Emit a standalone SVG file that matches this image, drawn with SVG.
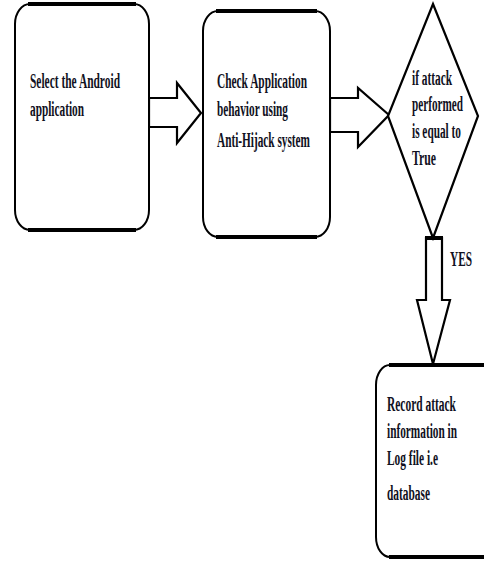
<svg xmlns="http://www.w3.org/2000/svg" width="484" height="561" viewBox="0 0 484 561">
<style>
.box{fill:#fff;stroke:#000;stroke-width:2}
.edge{stroke:#000;stroke-width:4;stroke-linecap:butt}
.arr{fill:#fff;stroke:#000;stroke-width:2.2;stroke-linejoin:miter}
.t{font-family:"Liberation Serif","Times New Roman",serif;font-weight:bold;font-size:20px;fill:#111122}
</style>
<rect width="484" height="561" fill="#fff"/>
<g id="connectors">
<polygon class="arr" points="149,98 177,98 177,83 201,113 177,143 177,127 149,127"/>
<polygon class="arr" points="330,98 358,98 358,88 389,115 358,147 358,132 330,132"/>
<polygon class="arr" points="426,238 442,238 442,300 450,300 433,364 417,300 426,300"/>
<line class="edge" x1="425" y1="238" x2="443" y2="238"/>
<text class="t" x="450" y="266" textLength="22" lengthAdjust="spacingAndGlyphs">YES</text>
</g>
<g id="select">
<rect class="box" x="15" y="4" width="134" height="226" rx="15" ry="20"/>
<line class="edge" x1="28" y1="4" x2="136" y2="4"/>
<line class="edge" x1="28" y1="230" x2="136" y2="230"/>
<text class="t" x="30" y="88" textLength="90" lengthAdjust="spacingAndGlyphs">Select the Android</text>
<text class="t" x="30" y="116" textLength="54" lengthAdjust="spacingAndGlyphs">application</text>
</g>
<g id="check">
<rect class="box" x="203" y="11" width="127" height="226" rx="15" ry="20"/>
<line class="edge" x1="216" y1="11" x2="317" y2="11"/>
<line class="edge" x1="216" y1="237" x2="317" y2="237"/>
<text class="t" x="217" y="88" textLength="90" lengthAdjust="spacingAndGlyphs">Check Application</text>
<text class="t" x="217" y="116" textLength="71" lengthAdjust="spacingAndGlyphs">behavior using</text>
<text class="t" x="217" y="147" textLength="93" lengthAdjust="spacingAndGlyphs">Anti-Hijack system</text>
</g>
<g id="decision">
<polygon class="arr" points="433,4 478,116 433,238 388,116"/>
<text class="t" x="412" y="85" textLength="40" lengthAdjust="spacingAndGlyphs">if attack</text>
<text class="t" x="412" y="111" textLength="51" lengthAdjust="spacingAndGlyphs">performed</text>
<text class="t" x="412" y="138" textLength="49" lengthAdjust="spacingAndGlyphs">is equal to</text>
<text class="t" x="412" y="165" textLength="24" lengthAdjust="spacingAndGlyphs">True</text>
</g>
<g id="record">
<rect class="box" x="376" y="365" width="125" height="192" rx="14" ry="20"/>
<line class="edge" x1="389" y1="365" x2="490" y2="365"/>
<line class="edge" x1="389" y1="557" x2="490" y2="557"/>
<text class="t" x="387" y="411" textLength="69" lengthAdjust="spacingAndGlyphs">Record attack</text>
<text class="t" x="387" y="438" textLength="70" lengthAdjust="spacingAndGlyphs">information in</text>
<text class="t" x="387" y="465" textLength="51" lengthAdjust="spacingAndGlyphs">Log file i.e</text>
<text class="t" x="387" y="500" textLength="43" lengthAdjust="spacingAndGlyphs">database</text>
</g>
</svg>
